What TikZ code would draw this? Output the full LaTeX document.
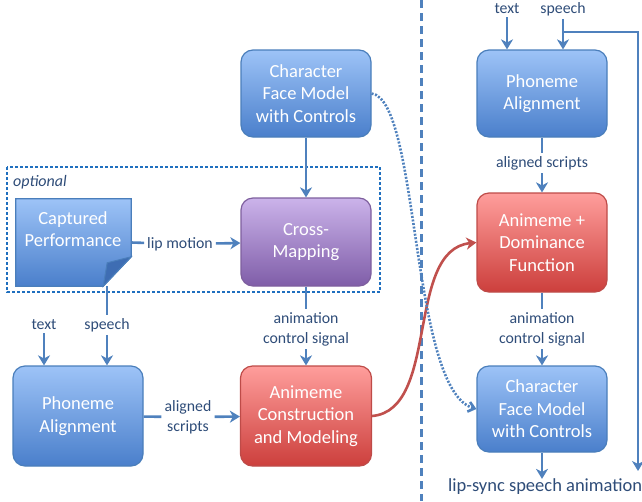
\documentclass[tikz,border=0pt]{standalone}
\usepackage{fontspec}
\setmainfont{Carlito}
\usetikzlibrary{arrows.meta}

\definecolor{bluetop}{HTML}{9DC3F7}
\definecolor{bluebot}{HTML}{4A7FCB}
\definecolor{blueedge}{HTML}{4A7EBB}
\definecolor{redtop}{HTML}{FF9E9C}
\definecolor{redbot}{HTML}{CC3F3C}
\definecolor{rededge}{HTML}{BE4B48}
\definecolor{purtop}{HTML}{CBB3EA}
\definecolor{purbot}{HTML}{7F5DA8}
\definecolor{puredge}{HTML}{7E5F9E}
\definecolor{labelc}{HTML}{2E4C78}
\definecolor{linkc}{HTML}{4F81BD}
\definecolor{curvec}{HTML}{C0504D}
\definecolor{optc}{HTML}{1F6FBF}
\definecolor{flapc}{HTML}{3E6DB3}

\tikzset{
  bluebox/.style={rounded corners=12pt,draw=blueedge,line width=1.2pt,
    top color=bluetop,bottom color=bluebot,text=white,align=center,
    font=\fontsize{18.5}{22.5}\selectfont,inner sep=0pt,
    minimum width=130pt,minimum height=87pt},
  redbox/.style={bluebox,draw=rededge,top color=redtop,bottom color=redbot},
  purbox/.style={bluebox,draw=puredge,top color=purtop,bottom color=purbot},
  lbl/.style={text=labelc,align=center,inner sep=3pt,
    font=\fontsize{15.8}{20}\selectfont},
  link/.style={draw=linkc,line width=2.6pt},
  linkto/.style={link,-{Stealth[length=10pt,width=12pt,inset=3pt]}},
}

\begin{document}
\begin{tikzpicture}[x=1pt,y=-1pt]
  \useasboundingbox (0,0) rectangle (642,501);

  % divider
  \draw[linkc,line width=3pt,dash pattern=on 8pt off 5pt] (421,0) -- (421,501);

  % optional frame
  \draw[optc,line width=1.4pt,dash pattern=on 3pt off 2pt] (7,167) rectangle (380,292);
  \node[lbl,anchor=west,font=\fontsize{16}{19}\selectfont\itshape,inner sep=0pt] (opt) at (13,182) {optional};

  % left part
  \node[bluebox] (cfm) at (306,93.5) {Character\\Face Model\\with Controls};
  \node[purbox,minimum height=88pt] (cm) at (306,242) {Cross-\\Mapping};
  \node[minimum width=115pt,minimum height=87pt] (cap) at (73.5,242.5) {};
  \path[draw=blueedge,line width=1.2pt,top color=bluetop,bottom color=bluebot]
    (cap.north west) -- (cap.north east) -- ([yshift=-58pt]cap.north east)
    -- ([xshift=-28pt]cap.south east) -- (cap.south west) -- cycle;
  \path[draw=blueedge,line width=1pt,fill=flapc]
    ([yshift=-58pt]cap.north east) -- ([xshift=-28pt]cap.south east)
    -- ([xshift=-24pt,yshift=-64pt]cap.north east) -- cycle;
  \node[text=white,align=center,font=\fontsize{18.5}{22.5}\selectfont] (captxt) at (73,229) {Captured\\Performance};
  \node[bluebox,minimum height=100pt] (paL) at (78,416) {Phoneme\\Alignment};
  \node[redbox,minimum width=131pt,minimum height=100pt] (acm) at (306,416) {Animeme\\Construction\\and Modeling};

  \node[lbl] (lip) at (180,244) {lip motion};
  \node[lbl] (txtL) at (44,325) {text};
  \node[lbl] (spL) at (107,325) {speech};
  \node[lbl] (asL) at (188,417) {aligned\\scripts};
  \node[lbl] (acsL) at (306,329) {animation\\control signal};

  \draw[linkto] (cfm) -- (cm);
  \draw[link] (cap.east) -- (lip);
  \draw[linkto] (lip) -- (cm);
  \draw[link] (cm) -- (acsL);
  \draw[linkto] (acsL) -- (acm);
  \draw[link] (spL |- cap.south) -- (spL);
  \draw[linkto] (txtL) -- (txtL |- paL.north);
  \draw[linkto] (spL) -- (spL |- paL.north);
  \draw[link] (paL) -- (asL);
  \draw[linkto] (asL) -- (acm);

  % right part
  \node[bluebox] (paR) at (542,93.5) {Phoneme\\Alignment};
  \node[redbox,minimum height=99pt] (adf) at (542,242.5) {Animeme +\\Dominance\\Function};
  \node[bluebox,minimum height=86pt] (cfmR) at (542,409) {Character\\Face Model\\with Controls};

  \node[lbl] (txtR) at (507,9) {text};
  \node[lbl] (spR) at (563,9) {speech};
  \node[lbl] (asR) at (542,163) {aligned scripts};
  \node[lbl] (acsR) at (542,329) {animation\\control signal};
  \node[lbl,anchor=west,inner sep=0pt,font=\fontsize{18.5}{22}\selectfont] (out) at (448,487) {lip-sync speech animation};

  \coordinate (brA) at (563,32);
  \coordinate (brB) at (638,32);
  \coordinate (brC) at (638,471);

  \draw[linkto] (txtR) -- (txtR |- paR.north);
  \draw[linkto] (spR) -- (spR |- paR.north);
  \draw[linkto] (brA) -- (brB) -- (brC);
  \draw[link] (paR) -- (asR);
  \draw[linkto] (asR) -- (adf);
  \draw[link] (adf) -- (acsR);
  \draw[linkto] (acsR) -- (cfmR);
  \draw[linkto] (cfmR) -- (cfmR |- out.north);

  % cross links
  \draw[curvec,line width=2.6pt,-{Stealth[length=10pt,width=12pt,inset=3pt]}]
    (acm.east) .. controls (440,410) and (405,250) .. (adf.west);
  \draw[linkc,line width=2.6pt,dash pattern=on 2pt off 1.6pt,-{Straight Barb[length=6pt,width=10pt]}]
    (cfm.east) .. controls (420,100) and (410,390) .. (cfmR.west);
\end{tikzpicture}
\end{document}
